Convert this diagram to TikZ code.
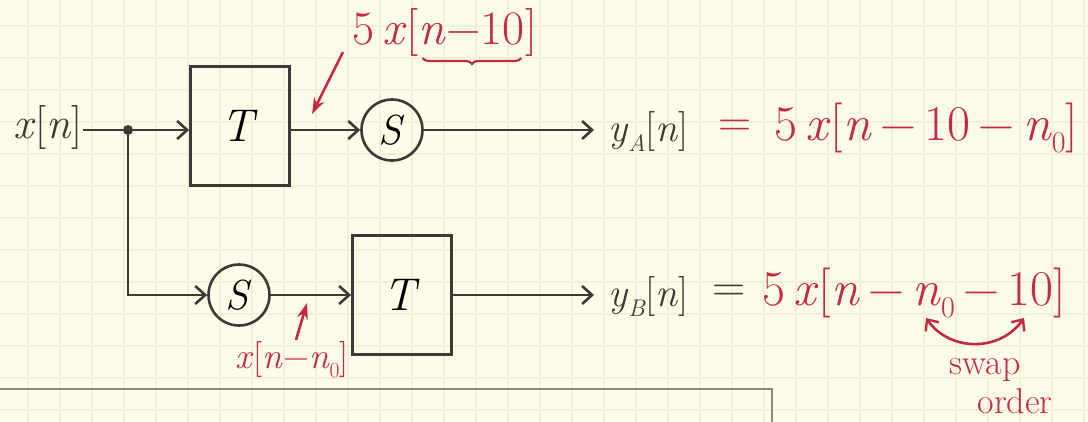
\documentclass[tikz,border=0pt]{standalone}
\usepackage{fontspec}
\usetikzlibrary{arrows.meta,calc,decorations.pathreplacing}
\definecolor{paper}{HTML}{FDFCE9}
\definecolor{gridc}{HTML}{F2EFD8}
\definecolor{ink}{HTML}{3B3B35}
\definecolor{redink}{HTML}{C42A45}
\definecolor{boxline}{HTML}{8C8B80}
\newcommand{\vi}[1]{\textit{#1}}
\newcommand{\subsc}[1]{\raisebox{-0.25em}{\fontsize{0.6em}{0.6em}\selectfont #1}}
\newcommand{\mn}{\,−\,}
\tikzset{
  wire/.style={ink, line width=2.8pt},
  sig/.style={wire, -{Straight Barb[length=10pt,width=18pt,line width=2.6pt]}},
  blockbox/.style={draw=ink, line width=2.8pt, minimum width=99pt, minimum height=119pt, inner sep=0pt, font=\fontsize{46}{50}\selectfont},
  circ/.style={draw=ink, circle, line width=2.6pt, minimum size=61pt, inner sep=0pt, font=\fontsize{42}{46}\selectfont},
  lbl/.style={text=ink, inner sep=0pt},
  rlbl/.style={text=redink, inner sep=0pt},
  redarrow/.style={redink, line width=2.6pt, -{Stealth[length=16pt,width=11pt]}},
  swaparrow/.style={redink, line width=2.6pt, {Straight Barb[length=9pt,width=16pt,line width=2.4pt]}-{Straight Barb[length=9pt,width=16pt,line width=2.4pt]}}
}
\begin{document}
\begin{tikzpicture}[x=1pt,y=-1pt]
\clip (0,0) rectangle (1088,421);
\fill[paper] (0,0) rectangle (1088,421);
\begin{scope}[shift={(-4,-6)}]
\draw[gridc, line width=1.1pt, step=32pt] (0,0) grid (1100,430);
\end{scope}

% top branch
\node[lbl, font=\fontsize{44}{48}\selectfont] (xin) at (48,127) {\vi{x}[\vi{n}]};
\node[circle, fill=ink, inner sep=0pt, minimum size=10pt] (dot) at (128,130) {};
\node[blockbox] (T1) at (240,126) {\vi{T}};
\node[circ] (S1) at (392,130) {\vi{S}};
\coordinate (o1) at (594,130);
\node[lbl, anchor=west, font=\fontsize{40}{44}\selectfont] (yA) at (608,132) {\vi{y}\subsc{\vi{A}}[\vi{n}]};
\node[rlbl, anchor=west, font=\fontsize{46}{50}\selectfont] (eqsA) at (718,128) {=};
\node[rlbl, anchor=west, font=\fontsize{50}{54}\selectfont] (eqA) at (774,128) {5\,\vi{x}[\vi{n}\mn10\mn\vi{n}\subsc{0}]};

\draw[wire] (dot -| xin.east) -- (dot);
\draw[sig] (dot) -- (dot -| T1.west);
\draw[sig] (T1.east |- S1) -- (S1.west);
\draw[sig] (S1.east) -- (o1);

% bottom branch
\node[circ] (S2) at (239,295) {\vi{S}};
\node[blockbox] (T2) at (402,295) {\vi{T}};
\coordinate (o2) at (594,295);
\node[lbl, anchor=west, font=\fontsize{40}{44}\selectfont] (yB) at (608,297) {\vi{y}\subsc{\vi{B}}[\vi{n}]};
\node[lbl, anchor=west, font=\fontsize{46}{50}\selectfont] (eqsB) at (712,293) {=};
\node[rlbl, anchor=west, font=\fontsize{50}{54}\selectfont] (eqB) at (762,293) {5\,\vi{x}[\vi{n}\mn\vi{n}\subsc{0}\mn10]};

\draw[sig] (dot) |- (S2.west);
\draw[sig] (S2.east) -- (T2.west);
\draw[sig] (T2.east) -- (o2);

% red annotations
\node[rlbl, anchor=base west, font=\fontsize{48}{52}\selectfont] (lA1) at (352,44) {5\,\vi{x}[};
\node[rlbl, anchor=base west, font=\fontsize{48}{52}\selectfont] (lA2) at (lA1.base east) {\vi{n}−10};
\node[rlbl, anchor=base west, font=\fontsize{48}{52}\selectfont] (lA3) at (lA2.base east) {]};
\draw[redink, line width=2.2pt, decorate, decoration={brace, mirror, amplitude=6pt}] ($(lA2.base west)+(4,14)$) -- ($(lA2.base east)+(-4,14)$);
\coordinate (a1) at (343,52);
\coordinate (a2) at (312,114);
\draw[redarrow] (a1) -- (a2);

\node[rlbl, anchor=base, font=\fontsize{36}{40}\selectfont] (lB) at (292,368) {\vi{x}[\vi{n}−\vi{n}\subsc{0}]};
\coordinate (b1) at (296,340);
\coordinate (b2) at (307,303);
\draw[redarrow] (b1) -- (b2);

\coordinate (sw1) at (926,318);
\coordinate (sw2) at (1024,318);
\draw[swaparrow] (sw1) .. controls (950,352) and (1000,352) .. (sw2);
\node[rlbl, font=\fontsize{36}{40}\selectfont] (swap) at (985,370) {swap};
\node[rlbl, font=\fontsize{36}{40}\selectfont] (order) at (1015,401) {order};

% bottom box (cut off)
\draw[boxline, line width=2pt] (-5,389) -| (772,440);
\end{tikzpicture}
\end{document}
